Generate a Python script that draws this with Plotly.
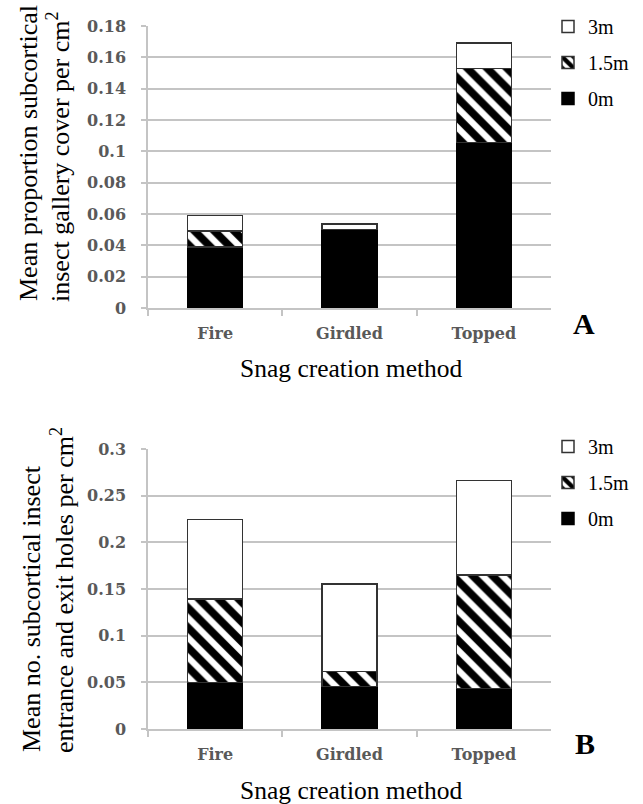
import plotly.graph_objects as go

categories = ["Fire", "Girdled", "Topped"]
heights = ["0m", "1.5m", "3m"]

# Panel A: mean proportion gallery cover per cm2
a_0m = [0.0388, 0.0502, 0.1055]
a_15m = [0.0105, 0.0, 0.0475]
a_3m = [0.0097, 0.0034, 0.0160]

# Panel B: mean no. entrance/exit holes per cm2
b_0m = [0.0500, 0.0454, 0.0436]
b_15m = [0.0895, 0.0160, 0.1215]
b_3m = [0.0852, 0.0941, 0.1010]

W, H = 643, 804
def px(x):
    return x / W
def py(y):
    return 1 - y / H

SERIF = "Liberation Serif"
TICKFONT = dict(family="DejaVu Serif", size=16, color="#595959", weight="bold")
GRID = "#c4c4c4"

fig = go.Figure()

styles = {
    "0m": dict(color="black", line=dict(color="black", width=1.5)),
    "1.5m": dict(color="white", line=dict(color="#333333", width=1.5),
                 pattern=dict(shape="\\", fgcolor="black", fgopacity=1, bgcolor="white",
                              size=14, solidity=0.55)),
    "3m": dict(color="white", line=dict(color="#333333", width=1.5)),
}
ranks = {"3m": 1, "1.5m": 2, "0m": 3}

for panel, (vals, xa, ya, lg) in enumerate([
        ((a_0m, a_15m, a_3m), "x", "y", "legend"),
        ((b_0m, b_15m, b_3m), "x2", "y2", "legend2")]):
    for name, v in zip(heights, vals):
        fig.add_trace(go.Bar(
            x=categories, y=v, name=name, xaxis=xa, yaxis=ya,
            marker=styles[name], width=0.41, legend=lg,
            legendgroup=f"{lg}-{name}", legendrank=ranks[name],
        ))

xdom = [px(148), px(551)]
common_x = dict(domain=xdom, range=[-0.5, 2.5], showline=True, linecolor=GRID, linewidth=1.5,
                ticks="outside", tickson="boundaries", ticklen=6, tickcolor=GRID, tickwidth=1.5,
                tickfont=TICKFONT, showgrid=False, ticklabelstandoff=10)
common_y = dict(showline=True, linecolor=GRID, linewidth=1.5, ticks="outside", ticklen=5,
                tickcolor=GRID, tickwidth=1.5, showgrid=True, gridcolor=GRID, gridwidth=1.5,
                zeroline=False, tickfont=TICKFONT, ticklabelstandoff=12)

legend_common = dict(xanchor="left", yanchor="top", traceorder="grouped", tracegroupgap=7,
                     font=dict(family=SERIF, size=20, color="black"), bgcolor="rgba(0,0,0,0)")

fig.update_layout(
    width=W, height=H,
    margin=dict(l=0, r=0, t=0, b=0, autoexpand=False),
    paper_bgcolor="white", plot_bgcolor="white",
    barmode="stack",
    xaxis=dict(common_x, anchor="y"),
    yaxis=dict(common_y, domain=[py(308), py(26)], range=[0, 0.18], dtick=0.02, anchor="x"),
    xaxis2=dict(common_x, anchor="y2"),
    yaxis2=dict(common_y, domain=[py(729), py(449)], range=[0, 0.3], dtick=0.05, anchor="x2"),
    legend=dict(legend_common, x=px(548), y=py(7)),
    legend2=dict(legend_common, x=px(548), y=py(427)),
    showlegend=True,
)

ann = []
def text(x, y, t, size=25, angle=0, bold=False):
    ann.append(dict(x=px(x), y=py(y), xref="paper", yref="paper", text=t, showarrow=False,
                    textangle=angle, xanchor="center", yanchor="middle",
                    font=dict(family=SERIF, size=size, color="black", weight="bold" if bold else "normal")))

text(28, 153, "Mean proportion subcortical", size=26, angle=-90)
text(58, 157, "insect gallery cover per cm<sup>2</sup>", size=26, angle=-90)
text(351, 368, "Snag creation method", size=25.5)
text(584, 323, "A", size=30, bold=True)

text(31, 609, "Mean no. subcortical insect", size=26, angle=-90)
text(62, 590, "entrance and exit holes per cm<sup>2</sup>", size=26, angle=-90)
text(351, 790, "Snag creation method", size=25.5)
text(585, 743, "B", size=30, bold=True)

fig.update_layout(annotations=ann)
fig.write_html("out.html", config={"displayModeBar": False},
               post_script="document.body.style.margin='0';")
